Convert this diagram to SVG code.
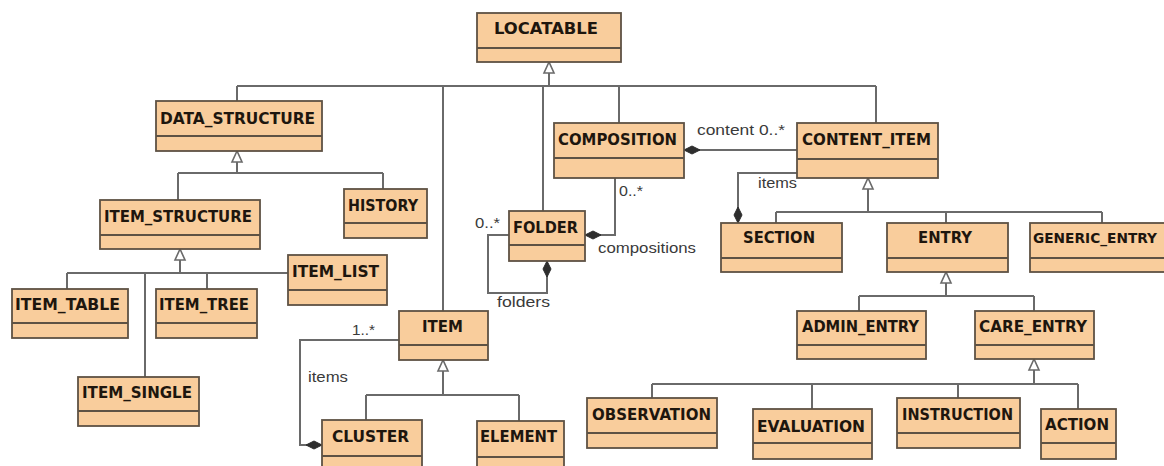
<svg xmlns="http://www.w3.org/2000/svg" width="1164" height="466" viewBox="0 0 1164 466">
  <style>
    .box rect { fill: #f9cd9c; stroke: #5e5244; stroke-width: 1.8; }
    .box line { stroke: #5e5244; stroke-width: 1.8; }
    .box text { font-family: "DejaVu Sans", Verdana, sans-serif; font-weight: bold; font-size: 16px; fill: #1e160e; }
    .box text.tight { font-size: 14px; }
    .wire { fill: none; stroke: #6a6a6a; stroke-width: 2; }
    .gen { fill: #ffffff; stroke: #6a6a6a; stroke-width: 1.6; }
    .dia { fill: #2e2e2e; stroke: #2e2e2e; stroke-width: 1; }
    .lbl { font-family: "Liberation Sans", Arial, sans-serif; font-size: 15px; fill: #3a3a3a; }
  </style>
  <rect width="1164" height="466" fill="#ffffff"/>

  <!-- connectors -->
  <g id="connectors">
    <!-- LOCATABLE specialisations -->
    <path class="wire" d="M549 73 V86 M237 86 H876 M237 86 V101 M443 86 V311 M543 86 V211 M619 86 V123 M876 86 V123"/>
    <polygon class="gen" points="549,62 544,73 554,73"/>
    <!-- DATA_STRUCTURE specialisations -->
    <path class="wire" d="M237 162 V173 M178 173 H383 M178 173 V200 M383 173 V189"/>
    <polygon class="gen" points="237,151 232,162 242,162"/>
    <!-- ITEM_STRUCTURE specialisations -->
    <path class="wire" d="M180 260 V273 M67 273 H288 M67 273 V289 M145 273 V377 M207 273 V289"/>
    <polygon class="gen" points="180,249 175,260 185,260"/>
    <!-- ITEM specialisations -->
    <path class="wire" d="M443 371 V395 M366 395 H519 M366 395 V420 M519 395 V421"/>
    <polygon class="gen" points="443,360 438,371 448,371"/>
    <!-- CONTENT_ITEM specialisations -->
    <path class="wire" d="M868 189 V212 M776 212 H1102 M776 212 V223 M946 212 V223 M1102 212 V223"/>
    <polygon class="gen" points="868,178 863,189 873,189"/>
    <!-- ENTRY specialisations -->
    <path class="wire" d="M946 283 V296 M859 296 H1034 M859 296 V311 M1034 296 V311"/>
    <polygon class="gen" points="946,272 941,283 951,283"/>
    <!-- CARE_ENTRY specialisations -->
    <path class="wire" d="M1034 370 V384 M652 384 H1078 M652 384 V398 M812 384 V409 M958 384 V398 M1078 384 V409"/>
    <polygon class="gen" points="1034,359 1029,370 1039,370"/>

    <!-- compositions -->
    <path class="wire" d="M684 150 H797"/>
    <polygon class="dia" points="684,150 692,146 700,150 692,154"/>
    <path class="wire" d="M615 178 V235 H585"/>
    <polygon class="dia" points="585,235 593,231 601,235 593,239"/>
    <path class="wire" d="M509 235 H488 V293 H547 V261"/>
    <polygon class="dia" points="547,261 543,269 547,277 551,269"/>
    <path class="wire" d="M797 173 H738 V223"/>
    <polygon class="dia" points="738,223 734,215 738,207 742,215"/>
    <path class="wire" d="M399 340 H300 V445 H322"/>
    <polygon class="dia" points="322,445 314,441 306,445 314,449"/>

    <!-- role names and multiplicities -->
    <text class="lbl" x="697" y="135" textLength="88" lengthAdjust="spacingAndGlyphs">content 0..*</text>
    <text class="lbl" x="619" y="196" textLength="24" lengthAdjust="spacingAndGlyphs">0..*</text>
    <text class="lbl" x="598" y="253" textLength="98" lengthAdjust="spacingAndGlyphs">compositions</text>
    <text class="lbl" x="475" y="228" textLength="25" lengthAdjust="spacingAndGlyphs">0..*</text>
    <text class="lbl" x="497" y="307" textLength="53" lengthAdjust="spacingAndGlyphs">folders</text>
    <text class="lbl" x="758" y="188" textLength="39" lengthAdjust="spacingAndGlyphs">items</text>
    <text class="lbl" x="352" y="335" textLength="23" lengthAdjust="spacingAndGlyphs">1..*</text>
    <text class="lbl" x="308" y="382" textLength="40" lengthAdjust="spacingAndGlyphs">items</text>
  </g>

  <!-- classes -->
  <g id="LOCATABLE" class="box"><rect x="477" y="13" width="144" height="49"/><line x1="477" y1="48" x2="621" y2="48"/><text x="494" y="34" textLength="104" lengthAdjust="spacingAndGlyphs">LOCATABLE</text></g>
  <g id="DATA_STRUCTURE" class="box"><rect x="156" y="101" width="166" height="50"/><line x1="156" y1="136" x2="322" y2="136"/><text x="160" y="124" textLength="155" lengthAdjust="spacingAndGlyphs">DATA_STRUCTURE</text></g>
  <g id="ITEM_STRUCTURE" class="box"><rect x="100" y="200" width="160" height="49"/><line x1="100" y1="235" x2="260" y2="235"/><text x="104" y="222" textLength="148" lengthAdjust="spacingAndGlyphs">ITEM_STRUCTURE</text></g>
  <g id="HISTORY" class="box"><rect x="344" y="189" width="83" height="49"/><line x1="344" y1="223" x2="427" y2="223"/><text x="348" y="211" textLength="70" lengthAdjust="spacingAndGlyphs">HISTORY</text></g>
  <g id="ITEM_LIST" class="box"><rect x="288" y="255" width="99" height="50"/><line x1="288" y1="290" x2="387" y2="290"/><text x="292" y="277" textLength="87" lengthAdjust="spacingAndGlyphs">ITEM_LIST</text></g>
  <g id="ITEM_TABLE" class="box"><rect x="12" y="289" width="116" height="49"/><line x1="12" y1="323" x2="128" y2="323"/><text x="15" y="310" textLength="105" lengthAdjust="spacingAndGlyphs">ITEM_TABLE</text></g>
  <g id="ITEM_TREE" class="box"><rect x="156" y="289" width="101" height="49"/><line x1="156" y1="323" x2="257" y2="323"/><text x="159" y="310" textLength="90" lengthAdjust="spacingAndGlyphs">ITEM_TREE</text></g>
  <g id="ITEM_SINGLE" class="box"><rect x="78" y="377" width="121" height="49"/><line x1="78" y1="411" x2="199" y2="411"/><text x="82" y="398" textLength="110" lengthAdjust="spacingAndGlyphs">ITEM_SINGLE</text></g>
  <g id="COMPOSITION" class="box"><rect x="554" y="123" width="130" height="55"/><line x1="554" y1="158" x2="684" y2="158"/><text x="558" y="145" textLength="119" lengthAdjust="spacingAndGlyphs">COMPOSITION</text></g>
  <g id="CONTENT_ITEM" class="box"><rect x="797" y="123" width="141" height="55"/><line x1="797" y1="159" x2="938" y2="159"/><text x="802" y="145" textLength="129" lengthAdjust="spacingAndGlyphs">CONTENT_ITEM</text></g>
  <g id="FOLDER" class="box"><rect x="509" y="211" width="76" height="50"/><line x1="509" y1="245" x2="585" y2="245"/><text x="513" y="233" textLength="65" lengthAdjust="spacingAndGlyphs">FOLDER</text></g>
  <g id="SECTION" class="box"><rect x="721" y="223" width="121" height="49"/><line x1="721" y1="258" x2="842" y2="258"/><text x="743" y="243" textLength="72" lengthAdjust="spacingAndGlyphs">SECTION</text></g>
  <g id="ENTRY" class="box"><rect x="887" y="223" width="121" height="49"/><line x1="887" y1="258" x2="1008" y2="258"/><text x="918" y="243" textLength="54" lengthAdjust="spacingAndGlyphs">ENTRY</text></g>
  <g id="GENERIC_ENTRY" class="box"><rect x="1030" y="223" width="135" height="49"/><line x1="1030" y1="258" x2="1165" y2="258"/><text class="tight" x="1033" y="243" textLength="124" lengthAdjust="spacingAndGlyphs">GENERIC_ENTRY</text></g>
  <g id="ADMIN_ENTRY" class="box"><rect x="797" y="311" width="129" height="48"/><line x1="797" y1="345" x2="926" y2="345"/><text x="802" y="332" textLength="117" lengthAdjust="spacingAndGlyphs">ADMIN_ENTRY</text></g>
  <g id="CARE_ENTRY" class="box"><rect x="975" y="311" width="119" height="48"/><line x1="975" y1="345" x2="1094" y2="345"/><text x="979" y="332" textLength="108" lengthAdjust="spacingAndGlyphs">CARE_ENTRY</text></g>
  <g id="ITEM" class="box"><rect x="399" y="311" width="89" height="49"/><line x1="399" y1="345" x2="488" y2="345"/><text x="422" y="332" textLength="41" lengthAdjust="spacingAndGlyphs">ITEM</text></g>
  <g id="CLUSTER" class="box"><rect x="322" y="420" width="100" height="50"/><line x1="322" y1="456" x2="422" y2="456"/><text x="332" y="442" textLength="77" lengthAdjust="spacingAndGlyphs">CLUSTER</text></g>
  <g id="ELEMENT" class="box"><rect x="477" y="421" width="87" height="50"/><line x1="477" y1="457" x2="564" y2="457"/><text x="480" y="442" textLength="77" lengthAdjust="spacingAndGlyphs">ELEMENT</text></g>
  <g id="OBSERVATION" class="box"><rect x="587" y="398" width="130" height="50"/><line x1="587" y1="433" x2="717" y2="433"/><text x="592" y="420" textLength="119" lengthAdjust="spacingAndGlyphs">OBSERVATION</text></g>
  <g id="EVALUATION" class="box"><rect x="753" y="409" width="119" height="50"/><line x1="753" y1="443" x2="872" y2="443"/><text x="757" y="432" textLength="108" lengthAdjust="spacingAndGlyphs">EVALUATION</text></g>
  <g id="INSTRUCTION" class="box"><rect x="897" y="398" width="123" height="50"/><line x1="897" y1="433" x2="1020" y2="433"/><text x="902" y="420" textLength="111" lengthAdjust="spacingAndGlyphs">INSTRUCTION</text></g>
  <g id="ACTION" class="box"><rect x="1041" y="409" width="75" height="50"/><line x1="1041" y1="443" x2="1116" y2="443"/><text x="1045" y="430" textLength="64" lengthAdjust="spacingAndGlyphs">ACTION</text></g>
</svg>
